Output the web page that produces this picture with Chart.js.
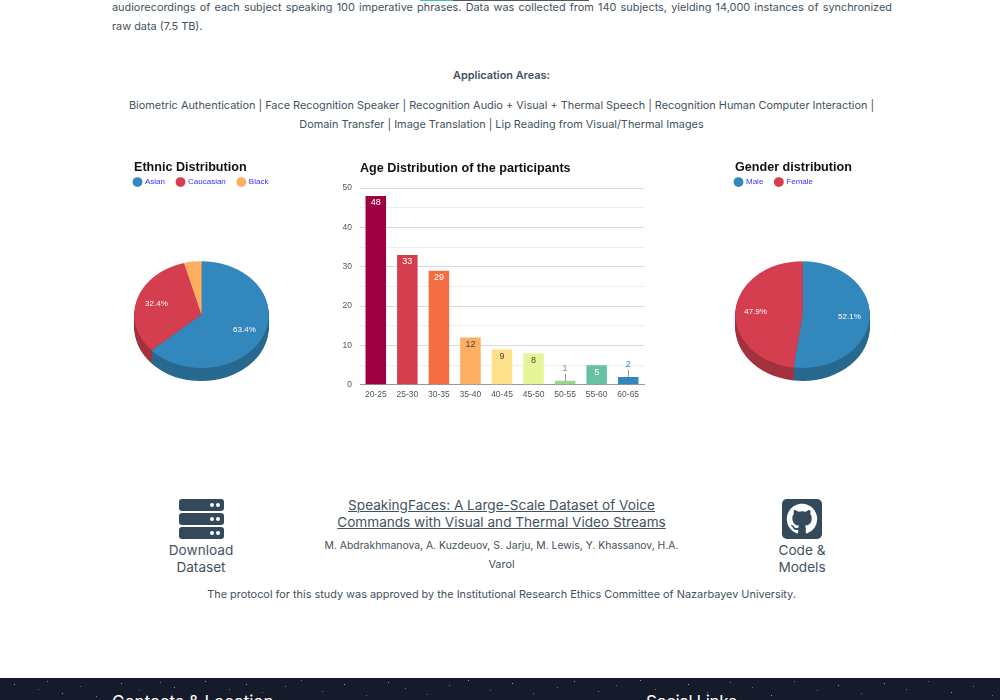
<!DOCTYPE html>
<html lang="en">
<head>
  <meta charset="UTF-8">
  <title>SpeakingFaces</title>
  <script src="https://cdn.jsdelivr.net/npm/chart.js"></script>
  <style>
    html, body { margin: 0; padding: 0; }
    body { width: 1000px; height: 700px; overflow: hidden; background: #fff; position: relative;
           font-family: Inter, "Open Sans", sans-serif; color: #43525e; }
    .txt { position: absolute; white-space: nowrap; font-size: 10.9px; line-height: 15px; }
    .center { text-align: center; left: 0; width: 1003px; }
    .big { font-size: 13.6px; line-height: 17px; }
    canvas { position: absolute; }
    #footer { position: absolute; left: 0; top: 678px; width: 1000px; height: 22px; background: #151b2a; overflow: hidden; }
    #footer div.label { position: absolute; top: 14px; color: #fff; font-size: 17px; line-height: 20px; }
    #stars { position: absolute; left: 0; top: 0; width: 1px; height: 1px; background: transparent;
      box-shadow: 14px 6px #8a93a8, 38px 11px #5f6a80, 47px 3px #6f7a90, 62px 15px #9aa3b8, 80px 8px #5f6a80, 96px 18px #7a85a0, 121px 5px #8a93a8,
        139px 12px #5f6a80, 160px 4px #6f7a90, 174px 9px #8a93a8, 190px 16px #5f6a80, 205px 3px #9aa3b8, 229px 11px #6f7a90, 246px 6px #8a93a8,
        262px 14px #5f6a80, 285px 8px #7a85a0, 301px 2px #6f7a90, 322px 13px #5f6a80, 344px 6px #9aa3b8, 366px 17px #5f6a80, 388px 4px #8a93a8,
        405px 10px #6f7a90, 427px 16px #5f6a80, 449px 7px #7a85a0, 468px 2px #8a93a8, 490px 12px #5f6a80, 512px 5px #9aa3b8, 533px 15px #6f7a90,
        557px 9px #5f6a80, 574px 3px #8a93a8, 598px 13px #6f7a90, 616px 7px #5f6a80, 640px 2px #8a93a8, 655px 11px #6f7a90, 688px 6px #9aa3b8,
        707px 14px #5f6a80, 730px 4px #7a85a0, 752px 9px #5f6a80, 771px 17px #8a93a8, 794px 3px #6f7a90, 817px 12px #5f6a80, 838px 7px #9aa3b8,
        861px 15px #5f6a80, 884px 5px #8a93a8, 906px 11px #6f7a90, 928px 3px #5f6a80, 951px 14px #8a93a8, 973px 8px #6f7a90, 992px 17px #5f6a80;
    }
    .server { position: absolute; left: 179px; width: 45px; height: 12px; border-radius: 3px; background: #34495a; }
    .server i { position: absolute; top: 4px; width: 4px; height: 4px; border-radius: 50%; background: #fff; }
  </style>
</head>
<body>
  <div class="txt" style="left:420px;top:0;width:33px;height:1px;background:#3fbfa8"></div>
  <div class="txt" style="left:453px;top:0;width:136px;height:1px;background:#555"></div>
  <div class="txt" style="left:112px;top:0;width:780px;white-space:normal;text-align:justify;text-align-last:justify">audiorecordings of each subject speaking 100 imperative phrases. Data was collected from 140 subjects, yielding 14,000 instances of synchronized</div>
  <div class="txt" style="left:112px;top:19px">raw data (7.5 TB).</div>
  <div class="txt center" style="top:68px;font-weight:600">Application Areas:</div>
  <div class="txt center" style="top:98px">Biometric Authentication | Face Recognition Speaker | Recognition Audio + Visual + Thermal Speech | Recognition Human Computer Interaction |</div>
  <div class="txt center" style="top:117px">Domain Transfer | Image Translation | Lip Reading from Visual/Thermal Images</div>

  <canvas id="ethnicChart" style="left:119px;top:150px" width="165" height="272"></canvas>
  <canvas id="ageChart" style="left:330px;top:150px" width="330" height="255"></canvas>
  <canvas id="genderChart" style="left:720px;top:150px" width="165" height="272"></canvas>

  <div class="server" style="top:499px"><i style="left:31px"></i><i style="left:37px"></i></div>
  <div class="server" style="top:513px"><i style="left:31px"></i><i style="left:37px"></i></div>
  <div class="server" style="top:527px"><i style="left:31px"></i><i style="left:37px"></i></div>
  <div class="txt big" style="left:151px;width:100px;top:542px;text-align:center">Download<br>Dataset</div>

  <div class="txt center big" style="top:497px;text-decoration:underline">SpeakingFaces: A Large-Scale Dataset of Voice<br>Commands with Visual and Thermal Video Streams</div>
  <div class="txt center" style="top:538px;font-size:10.4px">M. Abdrakhmanova, A. Kuzdeuov, S. Jarju, M. Lewis, Y. Khassanov, H.A.</div>
  <div class="txt center" style="top:557px">Varol</div>
  <div class="txt center" style="top:587px">The protocol for this study was approved by the Institutional Research Ethics Committee of Nazarbayev University.</div>

  <svg style="position:absolute;left:782px;top:499px" width="40" height="40" viewBox="0 0 40 40">
    <rect width="40" height="40" rx="5" fill="#34495a"/>
    <g transform="translate(4.8 4.8) scale(1.9)">
      <path fill="#fff" d="M8 0C3.58 0 0 3.58 0 8c0 3.54 2.29 6.53 5.47 7.59.4.07.55-.17.55-.38 0-.19-.01-.82-.01-1.49-2.01.37-2.53-.49-2.69-.94-.09-.23-.48-.94-.82-1.13-.28-.15-.68-.52-.01-.53.63-.01 1.08.58 1.23.82.72 1.21 1.87.87 2.33.66.07-.52.28-.87.51-1.07-1.78-.2-3.64-.89-3.64-3.95 0-.87.31-1.59.82-2.15-.08-.2-.36-1.02.08-2.12 0 0 .67-.21 2.2.82.64-.18 1.32-.27 2-.27s1.36.09 2 .27c1.53-1.04 2.2-.82 2.2-.82.44 1.1.16 1.92.08 2.12.51.56.82 1.27.82 2.15 0 3.07-1.87 3.75-3.65 3.95.29.25.54.73.54 1.48 0 1.07-.01 1.93-.01 2.2 0 .21.15.46.55.38A8.013 8.013 0 0016 8c0-4.42-3.58-8-8-8z"/>
    </g>
  </svg>
  <div class="txt big" style="left:752px;width:100px;top:542px;text-align:center">Code &amp;<br>Models</div>

  <div id="footer">
    <div id="stars"></div>
    <div class="label" style="left:112px">Contacts &amp; Location</div>
    <div class="label" style="left:646px;letter-spacing:-0.4px">Social Links</div>
  </div>

  <script>
    const ethnicLabels = ['Asian', 'Caucasian', 'Black'];
    const ethnicValues = [63.4, 32.4, 4.2];
    const genderLabels = ['Male', 'Female'];
    const genderValues = [52.1, 47.9];
    const ageLabels = ['20-25', '25-30', '30-35', '35-40', '40-45', '45-50', '50-55', '55-60', '60-65'];
    const ageValues = [48, 33, 29, 12, 9, 8, 1, 5, 2];

    const pieColors = ['#3288bd', '#d53e4f', '#fdae61'];
    const pieSideColors = ['#28698f', '#a3323f', '#c4874b'];
    const barColors = ['#9e0142', '#d53e4f', '#f46d43', '#fdae61', '#fee08b', '#e6f598', '#9ad68f', '#66c2a5', '#3288bd'];
    const barLabelColors = ['#fff', '#fff', '#fff', '#444', '#444', '#444', '#7c9c78', '#fff', '#3288bd'];

    const FONT = '"Liberation Sans", Arial, sans-serif';
    const TILT = 0.795;
    const DEPTH = 13;

    // squashes the pie into an ellipse and draws the side wall under it
    const tiltPlugin = {
      id: 'tilt',
      afterLayout(chart) {
        chart.titleBlock.left += 15;
        chart.legend.left += 3;
        chart.legend.top -= 11;
      },
      beforeDatasetsDraw(chart) {
        const arcs = chart.getDatasetMeta(0).data;
        const ctx = chart.ctx;
        const x = arcs[0].x, y = arcs[0].y;
        ctx.save();
        ctx.translate(x, y);
        ctx.scale(1, TILT);
        ctx.translate(-x, -y);
        for (let d = DEPTH; d > 0; d--) {
          arcs.forEach((arc, i) => {
            ctx.beginPath();
            ctx.moveTo(x, y + d / TILT);
            ctx.arc(x, y + d / TILT, arc.outerRadius, arc.startAngle, arc.endAngle);
            ctx.closePath();
            ctx.fillStyle = pieSideColors[i];
            ctx.fill();
          });
        }
      },
      afterDatasetsDraw(chart) {
        chart.ctx.restore();
        const ctx = chart.ctx;
        const ds = chart.data.datasets[0];
        ctx.save();
        ctx.font = '8px ' + FONT;
        ctx.fillStyle = '#fff';
        ctx.textAlign = 'center';
        ctx.textBaseline = 'middle';
        chart.getDatasetMeta(0).data.forEach((arc, i) => {
          if (ds.data[i] < 10) return;
          const mid = (arc.startAngle + arc.endAngle) / 2;
          const r = arc.outerRadius * 0.7;
          ctx.fillText(ds.data[i].toFixed(1) + '%', arc.x + Math.cos(mid) * r, arc.y + Math.sin(mid) * r * TILT);
        });
        ctx.restore();
      }
    };

    function makePie(id, title, labels, values) {
      new Chart(document.getElementById(id), {
        type: 'pie',
        plugins: [tiltPlugin],
        data: {
          labels: labels,
          datasets: [{ data: values, backgroundColor: pieColors, borderWidth: 0 }]
        },
        options: {
          responsive: false,
          animation: false,
          radius: 67.2,
          plugins: {
            title: { display: true, text: title, align: 'start', color: '#111', padding: { top: 10, bottom: 2 },
                     font: { family: FONT, size: 12.6, weight: 'bold' } },
            legend: { position: 'top', align: 'start',
                      labels: { usePointStyle: true, pointStyle: 'circle', boxWidth: 7, boxHeight: 7, padding: 12,
                                color: '#3333ff', font: { family: FONT, size: 8 } } },
            tooltip: { enabled: false }
          }
        }
      });
    }

    makePie('ethnicChart', 'Ethnic Distribution', ethnicLabels, ethnicValues);
    makePie('genderChart', 'Gender distribution', genderLabels, genderValues);

    // value labels: inside the bar, or above with a short leader when the bar is too small
    const barLabelPlugin = {
      id: 'barLabels',
      afterLayout(chart) {
        chart.titleBlock.left += 30;
      },
      afterDatasetsDraw(chart) {
        const ctx = chart.ctx;
        const ds = chart.data.datasets[0];
        ctx.save();
        ctx.font = '9px ' + FONT;
        ctx.textAlign = 'center';
        ctx.textBaseline = 'middle';
        chart.getDatasetMeta(0).data.forEach((bar, i) => {
          ctx.fillStyle = barLabelColors[i];
          if (ds.data[i] <= 2) {
            ctx.strokeStyle = '#999';
            ctx.lineWidth = 1;
            ctx.beginPath();
            ctx.moveTo(Math.round(bar.x) + 0.5, bar.y);
            ctx.lineTo(Math.round(bar.x) + 0.5, bar.y - 7);
            ctx.stroke();
            ctx.fillText(ds.data[i], bar.x, bar.y - 12);
          } else {
            ctx.fillText(ds.data[i], bar.x, bar.y + 7);
          }
        });
        ctx.restore();
      }
    };

    new Chart(document.getElementById('ageChart'), {
      type: 'bar',
      plugins: [barLabelPlugin],
      data: {
        labels: ageLabels,
        datasets: [{ data: ageValues, backgroundColor: barColors, borderWidth: 0,
                     barPercentage: 1, categoryPercentage: 0.65 }]
      },
      options: {
        responsive: false,
        animation: false,
        layout: { padding: { left: 0, right: 16, top: 0, bottom: 0 } },
        scales: {
          x: {
            grid: { display: false, drawTicks: false },
            border: { color: '#999', width: 1 },
            ticks: { color: '#555', font: { family: FONT, size: 8.5 }, padding: 5, maxRotation: 0, autoSkip: false }
          },
          y: {
            min: 0,
            max: 50,
            afterFit(axis) { axis.width = 30; },
            border: { display: false },
            grid: {
              drawTicks: false,
              color: c => (c.tick.value % 10 === 0 ? '#d9d9d9' : '#eeeeee')
            },
            ticks: {
              stepSize: 5,
              color: '#555',
              padding: 8,
              font: { family: FONT, size: 8.5 },
              callback: v => (v % 10 === 0 ? v : '')
            }
          }
        },
        plugins: {
          legend: { display: false },
          tooltip: { enabled: false },
          title: { display: true, text: 'Age Distribution of the participants', align: 'start', color: '#111',
                   padding: { top: 11, bottom: 12 }, font: { family: FONT, size: 12.6, weight: 'bold' } }
        }
      }
    });
  </script>
</body>
</html>
